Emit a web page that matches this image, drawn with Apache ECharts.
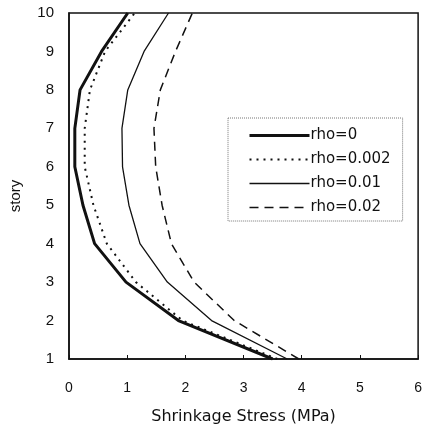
<!DOCTYPE html>
<html>
<head>
<meta charset="utf-8">
<script src="https://cdn.jsdelivr.net/npm/echarts@6/dist/echarts.min.js"></script>
<style>
  html, body { margin: 0; padding: 0; background: #fff; }
  #chart { width: 425px; height: 430px; }
</style>
</head>
<body>
<div id="chart"></div>
<script>
// story levels and shrinkage stress (MPa) for each reinforcement ratio
const stories = [1, 2, 3, 4, 5, 6, 7, 8, 9, 10]
const rho0 = [3.5, 1.88, 0.98, 0.44, 0.24, 0.1, 0.1, 0.19, 0.56, 1.01]
const rho002 = [3.58, 1.95, 1.15, 0.65, 0.42, 0.27, 0.27, 0.36, 0.62, 1.13]
const rho01 = [3.75, 2.45, 1.69, 1.22, 1.03, 0.92, 0.91, 1.01, 1.29, 1.71]
const rho02 = [3.95, 2.84, 2.15, 1.76, 1.6, 1.49, 1.46, 1.57, 1.83, 2.12]
const xTicks = [0, 1, 2, 3, 4, 5, 6]

const font = 'Liberation Sans, Arial, sans-serif'
const wide = 'DejaVu Sans, sans-serif'
const ink = '#111'

// line look per series: [width, dash]
const looks = {
  'rho=0': [3, 'solid'],
  'rho=0.002': [2, [2, 5]],
  'rho=0.01': [1.3, 'solid'],
  'rho=0.02': [1.5, [9, 6]]
}

const toPairs = vals => vals.map((v, i) => [v, stories[i]])

const chart = echarts.init(document.getElementById('chart'))

const mkSeries = (name, vals) => ({
  name,
  type: 'line',
  data: toPairs(vals),
  symbol: 'none',
  smooth: false,
  lineStyle: { color: ink, width: looks[name][0], type: looks[name][1] },
  itemStyle: { color: ink },
  animation: false
})

chart.setOption({
  animation: false,
  grid: {
    left: 67,
    right: 3,
    top: 13,
    bottom: 69,
    show: true,
    borderColor: ink,
    borderWidth: 1.5
  },
  legend: {
    orient: 'vertical',
    left: 228,
    top: 118,
    padding: [10, 12, 6, 20],
    itemWidth: 60,
    itemHeight: 14,
    itemGap: 9,
    borderColor: '#777',
    borderWidth: 1,
    borderType: 'dotted',
    itemStyle: { opacity: 0 },
    textStyle: { fontFamily: wide, fontSize: 15, lineHeight: 14, color: ink, padding: [0, 0, 0, -4] },
    data: Object.keys(looks).map(name => ({
      name,
      lineStyle: { color: ink, width: looks[name][0], type: looks[name][1] }
    }))
  },
  xAxis: {
    type: 'value',
    min: 0,
    max: 6,
    interval: 1,
    name: 'Shrinkage Stress (MPa)',
    nameLocation: 'middle',
    nameGap: 50,
    nameTextStyle: { fontFamily: wide, fontSize: 16, color: ink },
    axisLine: { show: true, lineStyle: { color: ink, width: 1.5 } },
    axisTick: { show: true, inside: true, length: 4, lineStyle: { color: ink } },
    axisLabel: {
      fontFamily: font,
      fontSize: 14,
      color: ink,
      margin: 22,
      formatter: v => (xTicks.includes(v) ? String(v) : '')
    },
    splitLine: { show: false }
  },
  yAxis: {
    type: 'value',
    min: 1,
    max: 10,
    interval: 1,
    name: 'story',
    nameLocation: 'middle',
    nameGap: 46,
    nameTextStyle: { fontFamily: font, fontSize: 15, color: ink, padding: [0, 20, 0, 0] },
    axisLine: { show: true, lineStyle: { color: ink, width: 1.5 } },
    axisTick: { show: false },
    axisLabel: { fontFamily: font, fontSize: 15, color: ink, margin: 15 },
    splitLine: { show: false }
  },
  series: [
    mkSeries('rho=0', rho0),
    mkSeries('rho=0.002', rho002),
    mkSeries('rho=0.01', rho01),
    mkSeries('rho=0.02', rho02)
  ]
})
</script>
</body>
</html>
